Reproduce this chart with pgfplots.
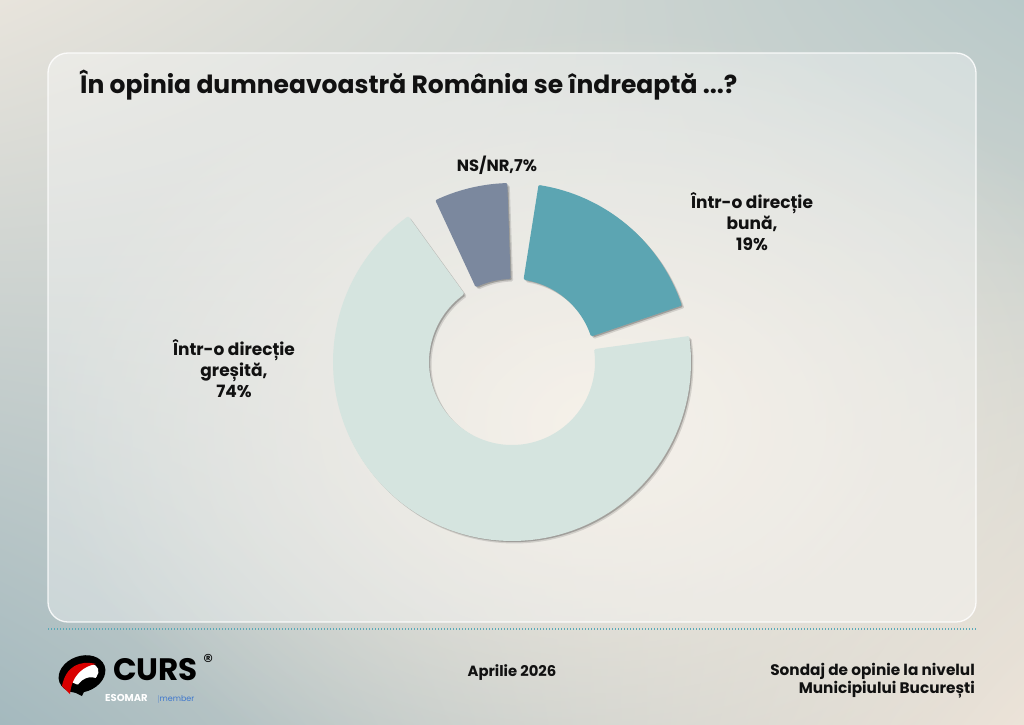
\documentclass[border=0pt]{standalone}
\usepackage{pgfplots}
\pgfplotsset{compat=1.18}
\usepackage{fontspec}
\setmainfont{Poppins}
\usetikzlibrary{fadings,shadings}
\tikzfading[name=myfade, inner color=transparent!0, outer color=transparent!100]
\definecolor{cBuna}{HTML}{5CA5B2}
\definecolor{cNS}{HTML}{7B889E}
\definecolor{cGres}{HTML}{D5E4DF}
\definecolor{bgTL}{HTML}{E8E4DC}
\definecolor{bgTR}{HTML}{B9C9C9}
\definecolor{bgBL}{HTML}{A4B9BE}
\definecolor{bgBR}{HTML}{ECE3D8}
\definecolor{bgC}{HTML}{F2EADF}
\definecolor{dotc}{HTML}{5AAAB8}
\definecolor{txt}{HTML}{111111}
% data (percent)
\def\vBuna{19}
\def\vGres{74}
\def\vNS{7}
\def\gap{11}
\def\startA{81}
\def\Ro{177.5}
\def\Ri{84.5}
\def\Cx{512}
\def\Cy{362}
\pgfmathsetmacro{\tot}{360-3*\gap}
\pgfmathsetmacro{\sA}{\vBuna/100*\tot}
\pgfmathsetmacro{\sB}{\vGres/100*\tot}
\pgfmathsetmacro{\sC}{\vNS/100*\tot}
\pgfmathsetmacro{\aBunaS}{\startA-\sA}
\pgfmathsetmacro{\aBunaE}{\startA}
\pgfmathsetmacro{\aGresS}{\startA-\sA-\gap-\sB}
\pgfmathsetmacro{\aGresE}{\startA-\sA-\gap}
\pgfmathsetmacro{\aNSS}{\startA+\gap}
\pgfmathsetmacro{\aNSE}{\startA+\gap+\sC}
% #1 start angle, #2 end angle, #3 style, #4 dx, #5 dy
\newcommand{\slice}[5]{%
\addplot[#3, line join=round, domain=0:201, samples=202, variable=\t]
 ({\Cx+#4+(\t<100.5 ? \Ro : \Ri)*cos(\t<100.5 ? (#1+(#2-#1)*\t/100) : (#2-(#2-#1)*(\t-101)/100))},
  {\Cy+#5+(\t<100.5 ? \Ro : \Ri)*sin(\t<100.5 ? (#1+(#2-#1)*\t/100) : (#2-(#2-#1)*(\t-101)/100))}) -- cycle;
}
\begin{document}
\begin{tikzpicture}
\begin{axis}[x=1pt, y=1pt, xmin=0, xmax=1024, ymin=0, ymax=724,
  hide axis, clip=false, scale only axis, anchor=origin, at={(0,0)}]
% background
\shade[upper left=bgTL, upper right=bgTR, lower left=bgBL, lower right=bgBR]
  (axis cs:0,0) rectangle (axis cs:1024,724);
\fill[bgC, path fading=myfade] (axis cs:600,300) ellipse [x radius=560pt, y radius=400pt];
% panel
\fill[white, opacity=0.35, rounded corners=20pt] (axis cs:48,102) rectangle (axis cs:976,671);
\draw[white, opacity=0.85, line width=1.3pt, rounded corners=20pt] (axis cs:48,102) rectangle (axis cs:976,671);
% dotted separator
\draw[dotc, line width=1.4pt, dash pattern=on 1.2pt off 1.8pt] (axis cs:48,95) -- (axis cs:976,95);
% title
\node[anchor=base west, font=\bfseries\fontsize{25}{28}\selectfont, text=txt, inner sep=0pt]
  at (axis cs:80,630) {În opinia dumneavoastră România se îndreaptă ...?};
% shadows
\slice{\aBunaS}{\aBunaE}{fill=black, draw=black, line width=3pt, opacity=0.12}{2.5}{-2.5}
\slice{\aGresS}{\aGresE}{fill=black, draw=black, line width=3pt, opacity=0.12}{2.5}{-2.5}
\slice{\aNSS}{\aNSE}{fill=black, draw=black, line width=3pt, opacity=0.12}{2.5}{-2.5}
\slice{\aBunaS}{\aBunaE}{fill=black, draw=black, line width=3pt, opacity=0.12}{1.2}{-1.2}
\slice{\aGresS}{\aGresE}{fill=black, draw=black, line width=3pt, opacity=0.12}{1.2}{-1.2}
\slice{\aNSS}{\aNSE}{fill=black, draw=black, line width=3pt, opacity=0.12}{1.2}{-1.2}
% slices
\slice{\aBunaS}{\aBunaE}{fill=cBuna, draw=cBuna, line width=3pt}{0}{0}
\slice{\aGresS}{\aGresE}{fill=cGres, draw=cGres, line width=3pt}{0}{0}
\slice{\aNSS}{\aNSE}{fill=cNS, draw=cNS, line width=3pt}{0}{0}
% labels
\node[font=\bfseries\fontsize{16.3}{21}\selectfont, text=txt, align=center, inner sep=0pt]
  at (axis cs:497,559) {NS/NR,7\%};
\node[font=\bfseries\fontsize{17}{21}\selectfont, text=txt, align=center, inner sep=0pt]
  at (axis cs:752,502) {Într-o direcție\\bună,\\19\%};
\node[font=\bfseries\fontsize{17}{21}\selectfont, text=txt, align=center, inner sep=0pt]
  at (axis cs:234,355) {Într-o direcție\\greșită,\\74\%};
% footer
\node[font=\bfseries\fontsize{14.8}{18}\selectfont, text=txt, inner sep=0pt]
  at (axis cs:512,51) {Aprilie 2026};
\node[font=\bfseries\fontsize{15.3}{18}\selectfont, text=txt, align=right, anchor=east, inner sep=0pt]
  at (axis cs:975,43) {Sondaj de opinie la nivelul\\Municipiului București};
% logo
\fill[black, rotate around={20:(axis cs:82,50)}] (axis cs:82,50) ellipse [x radius=24pt, y radius=18pt];
\fill[white, rotate around={20:(axis cs:84,50)}] (axis cs:84,50) ellipse [x radius=15pt, y radius=10pt];
\fill[red!85!black] (axis cs:62,38) .. controls (axis cs:66,58) and (axis cs:80,64) .. (axis cs:96,60)
  .. controls (axis cs:84,58) and (axis cs:72,50) .. (axis cs:70,30) -- cycle;
\fill[black] (axis cs:74,32) .. controls (axis cs:80,46) and (axis cs:90,50) .. (axis cs:100,44)
  .. controls (axis cs:92,42) and (axis cs:86,38) .. (axis cs:82,28) -- cycle;
\node[anchor=base west, font=\bfseries\fontsize{31}{32}\selectfont, text=black, inner sep=0pt]
  at (axis cs:113,44) {CURS};
\node[anchor=base west, font=\fontsize{20}{20}\selectfont, text=black, inner sep=0pt]
  at (axis cs:203,56) {®};
\node[anchor=base west, font=\bfseries\fontsize{10}{10}\selectfont, text=white, inner sep=0pt]
  at (axis cs:105,23) {ESOMAR};
\node[anchor=base west, font=\fontsize{8}{9}\selectfont, text=dotc!70!blue, inner sep=0pt]
  at (axis cs:157,23) {$|$member};
\end{axis}
\pgfresetboundingbox
\path[use as bounding box] (0,0) rectangle (1024pt,724pt);
\end{tikzpicture}
\end{document}
